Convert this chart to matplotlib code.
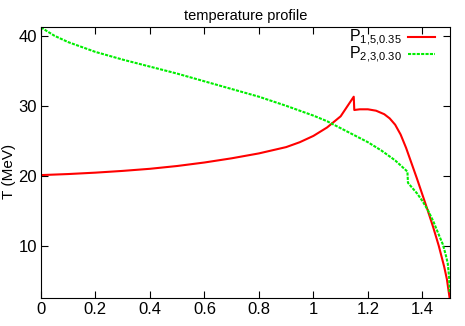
import matplotlib
matplotlib.use("Agg")
import matplotlib.pyplot as plt

plt.rcParams['font.family'] = ['Liberation Sans', 'DejaVu Sans']
plt.rcParams['mathtext.default'] = 'regular'

# P_{1,5,0.35} (red, solid)
mass_red = [0.0, 0.1, 0.2, 0.3, 0.4, 0.5, 0.6, 0.7, 0.8, 0.9, 0.95, 1.0,
            1.05, 1.1, 1.148, 1.150, 1.17, 1.2, 1.23, 1.26, 1.28, 1.30,
            1.32, 1.34, 1.36, 1.38, 1.40, 1.42, 1.44, 1.46, 1.48, 1.49, 1.50]
temp_red = [20.1, 20.25, 20.45, 20.7, 21.0, 21.4, 21.9, 22.5, 23.2, 24.1, 24.8, 25.7,
            26.9, 28.5, 31.3, 29.4, 29.5, 29.5, 29.3, 28.8, 28.2, 27.3,
            25.9, 24.0, 21.8, 19.6, 17.3, 15.0, 12.6, 10.0, 7.0, 5.2, 2.5]

# P_{2,3,0.30} (green, dotted)
mass_green = [0.0, 0.05, 0.1, 0.2, 0.3, 0.4, 0.5, 0.6, 0.7, 0.8, 0.9, 1.0,
              1.05, 1.1, 1.15, 1.2, 1.25, 1.3, 1.345, 1.347, 1.36, 1.38,
              1.40, 1.42, 1.44, 1.46, 1.475, 1.485, 1.493, 1.498, 1.5]
temp_green = [41.2, 40.0, 39.1, 37.7, 36.6, 35.6, 34.6, 33.5, 32.4, 31.3, 30.0, 28.6,
              27.8, 26.8, 25.8, 24.8, 23.6, 22.2, 20.6, 19.0, 18.4, 17.5,
              16.4, 15.1, 13.5, 11.6, 10.2, 8.8, 7.5, 5.5, 3.2]

fig = plt.figure(figsize=(4.65, 3.26), dpi=100)
ax = fig.add_axes([0.088, 0.085, 0.879, 0.832])

ax.plot(mass_red, temp_red, color='#ff0000', lw=1.5, label='P$_{1{,}5{,}0.35}$')
ax.plot(mass_green, temp_green, color='#00ee00', lw=1.5, dashes=(1.5, 0.6),
        label='P$_{2{,}3{,}0.30}$')

ax.set_xlim(0, 1.5)
ax.set_ylim(2.5, 41.25)
ax.set_xticks([0, 0.2, 0.4, 0.6, 0.8, 1.0, 1.2, 1.4])
ax.set_xticklabels(['0', '0.2', '0.4', '0.6', '0.8', '1', '1.2', '1.4'])
ax.set_yticks([10, 20, 30, 40])
ax.tick_params(direction='in', top=True, right=True, length=5, width=0.8,
               labelsize=12, pad=3)

ax.set_title('temperature profile', fontsize=10.5, pad=5)
ax.set_ylabel('T (MeV)', fontsize=11)
ax.yaxis.set_label_coords(-0.06, 0.469)
ax.set_xlabel('M$_b$(r) (M$_{sun}$)', fontsize=11)
ax.xaxis.set_label_coords(0.5, -0.115)

ax.legend(loc='upper right', frameon=False, markerfirst=False, fontsize=11.5,
          handlelength=1.7, handletextpad=0.4, labelspacing=-0.2,
          bbox_to_anchor=(0.98, 1.02), borderaxespad=0.0)

fig.savefig('out.png', dpi=100)
